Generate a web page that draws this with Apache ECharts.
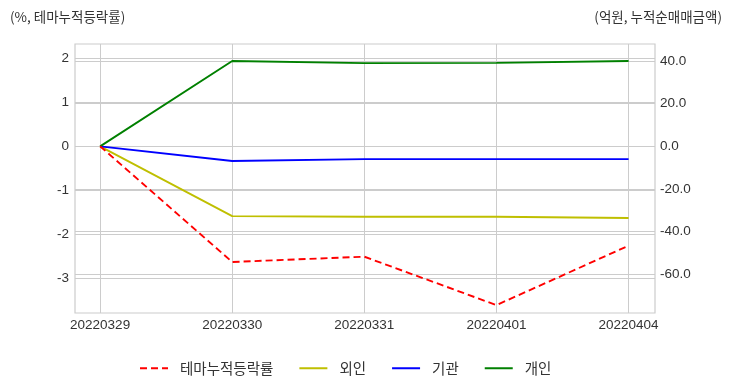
<!DOCTYPE html>
<html>
<head>
<meta charset="utf-8">
<script src="https://cdn.jsdelivr.net/npm/echarts@6/dist/echarts.min.js"></script>
<style>
html,body{margin:0;padding:0;background:#fff;}
#chart{width:732px;height:392px;}
</style>
</head>
<body>
<div id="chart"></div>
<script>
const categories = ['20220329', '20220330', '20220331', '20220401', '20220404'];
const themeReturn = [0, -2.63, -2.51, -3.61, -2.26];
const foreign = [0, -32.7, -33.0, -33.0, -33.6];
const institution = [0, -6.9, -6.0, -6.0, -6.0];
const individual = [0, 40.0, 39.0, 39.1, 40.0];
const leftTicks = [-3, -2, -1, 0, 1, 2];
const rightTicks = [-60, -40, -20, 0, 20, 40];
const xTicks = [0, 1, 2, 3, 4];
const seriesNames = ['테마누적등락률', '외인', '기관', '개인'];

const FONT = '"Liberation Sans", "Noto Sans CJK KR", sans-serif';
const KFONT = '"Noto Sans CJK KR", "Liberation Sans", sans-serif';
const toPts = arr => arr.map((v, i) => [i, v]);

const chart = echarts.init(document.getElementById('chart'), null, {renderer: 'canvas'});
chart.setOption({
  animation: false,
  backgroundColor: '#ffffff',
  grid: {left: 75, right: 77, top: 44, bottom: 79, show: true, borderColor: '#cccccc', borderWidth: 1.2, containLabel: false},
  title: [
    {text: '(%, 테마누적등락률)', left: 5, top: 5, textStyle: {fontFamily: KFONT, fontSize: 13.5, fontWeight: 'normal', color: '#333'}},
    {text: '(억원, 누적순매매금액)', right: 5, top: 5, textStyle: {fontFamily: KFONT, fontSize: 13.5, fontWeight: 'normal', color: '#333'}}
  ],
  legend: {
    left: 134, top: 356,
    itemWidth: 28, itemHeight: 10, itemGap: 25,
    itemStyle: {opacity: 0},
    textStyle: {fontFamily: KFONT, fontSize: 14.5, color: '#333', padding: [0, 0, 0, 7]},
    data: seriesNames
  },
  xAxis: {
    type: 'value', min: -0.19, max: 4.2,
    axisLine: {show: false}, axisTick: {show: false, customValues: xTicks},
    splitLine: {show: true, lineStyle: {color: '#cccccc', width: 1}},
    axisLabel: {
      customValues: xTicks,
      formatter: v => categories[Math.round(v)] || '',
      fontFamily: FONT, fontSize: 13.5, color: '#333', margin: 6
    }
  },
  yAxis: [
    {
      type: 'value', min: -3.79, max: 2.325, position: 'left',
      axisLine: {show: false}, axisTick: {show: false, customValues: leftTicks},
      splitLine: {show: true, lineStyle: {color: '#cccccc', width: 1}},
      axisLabel: {customValues: leftTicks, formatter: v => String(Math.round(v)), fontFamily: FONT, fontSize: 13.5, color: '#333', margin: 6}
    },
    {
      type: 'value', min: -78.1, max: 47.96, position: 'right',
      axisLine: {show: false}, axisTick: {show: false, customValues: rightTicks},
      splitLine: {show: true, lineStyle: {color: '#cccccc', width: 1}},
      axisLabel: {customValues: rightTicks, formatter: v => v.toFixed(1), fontFamily: FONT, fontSize: 13.5, color: '#333', margin: 5}
    }
  ],
  series: [
    {name: seriesNames[0], type: 'line', yAxisIndex: 0, data: toPts(themeReturn), symbol: 'none',
     lineStyle: {color: '#ff0000', width: 1.9, type: [7, 4]}, itemStyle: {color: '#ff0000'}, z: 5},
    {name: seriesNames[1], type: 'line', yAxisIndex: 1, data: toPts(foreign), symbol: 'none',
     lineStyle: {color: '#bfbf00', width: 1.9}, itemStyle: {color: '#bfbf00'}},
    {name: seriesNames[2], type: 'line', yAxisIndex: 1, data: toPts(institution), symbol: 'none',
     lineStyle: {color: '#0000ff', width: 1.9}, itemStyle: {color: '#0000ff'}},
    {name: seriesNames[3], type: 'line', yAxisIndex: 1, data: toPts(individual), symbol: 'none',
     lineStyle: {color: '#008000', width: 1.9}, itemStyle: {color: '#008000'}}
  ]
});
</script>
</body>
</html>
